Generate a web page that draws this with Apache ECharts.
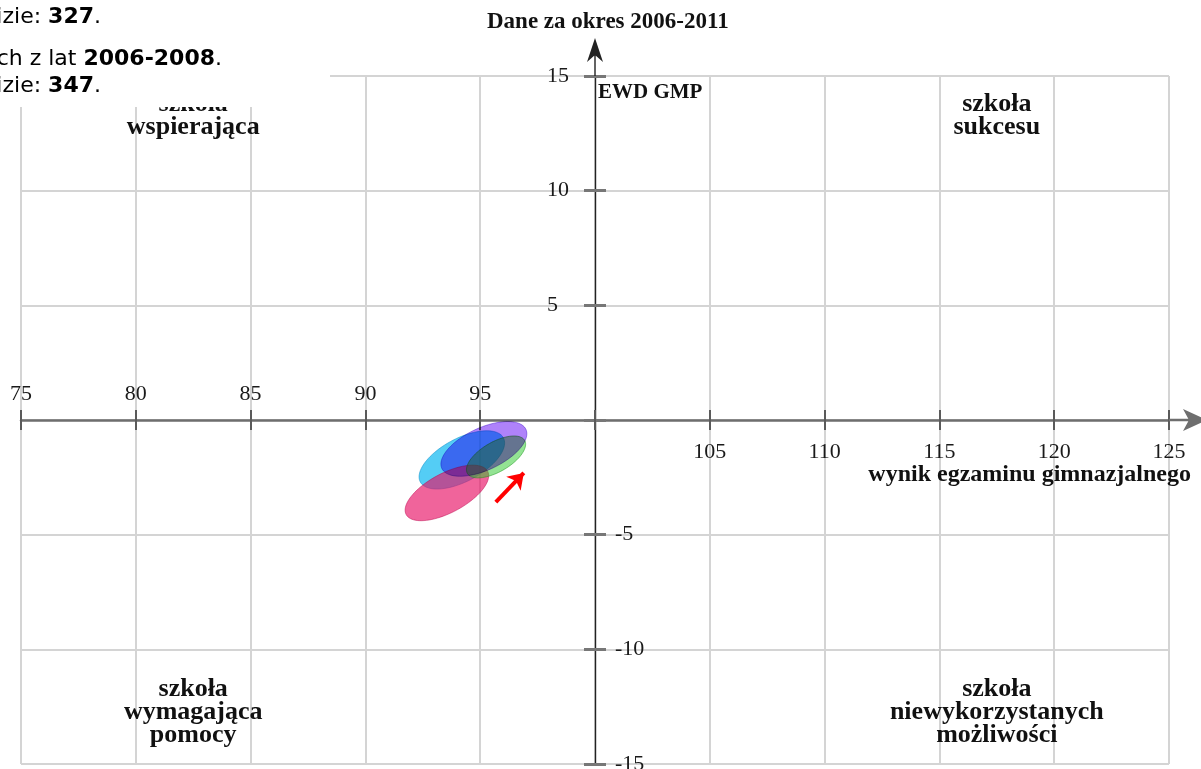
<!DOCTYPE html>
<html>
<head>
<meta charset="utf-8">
<script src="https://cdn.jsdelivr.net/npm/echarts@6/dist/echarts.min.js"></script>
<style>
html,body{margin:0;padding:0;background:#fff;}
#chart{width:1201px;height:769px;}
</style>
</head>
<body>
<div id="chart"></div>
<script>
// ---------- data ----------
const xMin = 75, xMax = 125, xStep = 5, xCross = 100;
const yMin = -15, yMax = 15, yStep = 5, yCross = 0;
const titleText = 'Dane za okres 2006-2011';
const xAxisTitle = 'wynik egzaminu gimnazjalnego';
const yAxisTitle = 'EWD GMP';

// ellipses (confidence areas), in data units — drawing order: cyan, pink, green, purple
const ellipseCenterX = [94.20, 93.55, 95.69, 95.16];
const ellipseCenterY = [-1.74, -3.18, -1.61, -1.26];
const ellipseRadiusX = [2.05, 2.01, 1.44, 2.02];
const ellipseRadiusY = [0.94, 0.86, 0.65, 0.92];
const ellipseAngle   = [28, 28, 30, 25];

// red pointer arrow (data units)
const arrowFrom = [95.68, -3.58];
const arrowTo   = [96.90, -2.31];

// quadrant captions
const quadrantLabels = ['szkoła\nwspierająca', 'szkoła\nsukcesu', 'szkoła\nwymagająca\npomocy', 'szkoła\nniewykorzystanych\nmożliwości'];
const quadrantX = [82.5, 117.5, 82.5, 117.5];
const quadrantY = [13.25, 13.25, -12.73, -12.73];

// page text fragments at top-left
const infoLines = [
  ['Liczba uczniów uwzględnionych w analizie: ', '327', '.'],
  ['Wyniki uczniów z egzaminów gimnazjalnych z lat ', '2006-2008', '.'],
  ['Liczba uczniów uwzględnionych w analizie: ', '347', '.']
];

// ---------- styles / layout ----------
const ellipseFill = ['rgba(12,184,241,0.7)', 'rgba(232,17,101,0.65)', 'rgba(40,200,40,0.5)', 'rgb(175,130,250)'];
const ellipseStroke = ['rgba(10,140,200,0.5)', 'rgba(190,10,80,0.5)', 'rgba(20,150,20,0.5)', 'rgba(120,80,220,0.6)'];
const ellipseBlend = ['source-over', 'source-over', 'source-over', 'multiply'];
const gridBox = {left: 21, top: 76, width: 1148, height: 688};
const leftOffset = -gridBox.width * (xCross - xMin) / (xMax - xMin);
const rightOffset = -gridBox.width * (xMax - xCross) / (xMax - xMin);
const bottomOffset = -gridBox.height * (yCross - yMin) / (yMax - yMin);
const topOffset = -gridBox.height * (yMax - yCross) / (yMax - yMin);
const serif = 'Liberation Serif';
const sans = 'DejaVu Sans';

const ellipseData = ellipseCenterX.map((cx, i) => [cx, ellipseCenterY[i], ellipseRadiusX[i], ellipseRadiusY[i], ellipseAngle[i]]);
const quadrantData = quadrantX.map((x, i) => [x, quadrantY[i]]);

const xArrowPath = 'path://M11,0 L22,24 L11,18 L0,24 Z M9.75,17 L12.25,17 L12.25,38 L9.75,38 Z';
const yArrowPath = 'path://M8,0 L16,24 L8,17 L0,24 Z M7.3,16 L8.7,16 L8.7,38 L7.3,38 Z';

const tickFont = {fontFamily: serif, fontSize: 22, color: '#1a1a1a'};

function infoText(line, x, y) {
  return {
    type: 'text', z: 101, silent: true,
    style: {
      text: '{a|' + line[0] + '}{b|' + line[1] + '}{a|' + line[2] + '}',
      x: x, y: y, align: 'right', verticalAlign: 'middle',
      rich: {
        a: {fontFamily: sans, fontSize: 22, color: '#5a5a5a'},
        b: {fontFamily: sans, fontSize: 22, fontWeight: 'bold', color: '#3a3a3a'}
      }
    }
  };
}

const chart = echarts.init(document.getElementById('chart'), null, {renderer: 'canvas'});
const option = {
  animation: false,
  backgroundColor: '#fff',
  grid: Object.assign({containLabel: false, outerBoundsMode: 'none'}, gridBox),
  xAxis: [{
    type: 'value', min: xMin, max: xMax, interval: xStep, position: 'bottom', offset: bottomOffset,
    axisLine: {show: true, onZero: false,
      lineStyle: {color: '#6e6e6e', width: 2.5},
      symbol: ['none', xArrowPath], symbolSize: [22, 38], symbolOffset: [0, 19]},
    axisTick: {show: true, inside: false, length: 10, lineStyle: {color: '#5a5a5a', width: 2}},
    axisLabel: Object.assign({show: true, inside: false, margin: 21, showMinLabel: true, showMaxLabel: true,
      formatter: v => (v > xCross ? String(v) : '')}, tickFont),
    splitLine: {show: true, lineStyle: {color: '#d4d4d4', width: 2}}
  }, {
    type: 'value', min: xMin, max: xMax, interval: xStep, position: 'top', offset: topOffset,
    axisLine: {show: true, onZero: false, lineStyle: {color: 'rgba(0,0,0,0)', width: 1}},
    axisTick: {show: true, inside: false, length: 10, lineStyle: {color: '#5a5a5a', width: 2}},
    axisLabel: Object.assign({show: true, inside: false, margin: 15, showMinLabel: true, showMaxLabel: true,
      formatter: v => (v < xCross ? String(v) : '')}, tickFont),
    splitLine: {show: false}
  }],
  yAxis: [{
    type: 'value', min: yMin, max: yMax, interval: yStep, position: 'left', offset: leftOffset,
    axisLine: {show: true, onZero: false, lineStyle: {color: '#222', width: 1.4},
      symbol: ['none', yArrowPath], symbolSize: [16, 38], symbolOffset: [0, 19]},
    axisTick: {show: true, inside: false, length: 11, lineStyle: {color: '#777', width: 3}},
    axisLabel: Object.assign({show: true, inside: false, margin: 48, align: 'left', showMinLabel: true, showMaxLabel: true,
      formatter: v => (v > 0 ? String(v) : '')}, tickFont),
    splitLine: {show: true, lineStyle: {color: '#d4d4d4', width: 2}}
  }, {
    type: 'value', min: yMin, max: yMax, interval: yStep, position: 'right', offset: rightOffset,
    axisLine: {show: true, onZero: false, lineStyle: {color: 'rgba(0,0,0,0)', width: 1}},
    axisTick: {show: true, inside: false, length: 11, lineStyle: {color: '#777', width: 3}},
    axisLabel: Object.assign({show: true, inside: false, margin: 20, align: 'left', showMinLabel: true, showMaxLabel: true,
      formatter: v => (v < 0 ? String(v) : '')}, tickFont),
    splitLine: {show: false}
  }],
  series: [{
    type: 'custom', name: 'elipsy', xAxisIndex: 0, yAxisIndex: 0, silent: true, z: 3,
    data: ellipseData,
    renderItem: function (params, api) {
      const cx = api.value(0), cy = api.value(1), rx = api.value(2), ry = api.value(3);
      const a = api.value(4) * Math.PI / 180;
      const pts = [];
      for (let k = 0; k < 90; k++) {
        const t = k / 90 * 2 * Math.PI;
        const dx = rx * Math.cos(t) * Math.cos(a) - ry * Math.sin(t) * Math.sin(a);
        const dy = rx * Math.cos(t) * Math.sin(a) + ry * Math.sin(t) * Math.cos(a);
        pts.push(api.coord([cx + dx, cy + dy]));
      }
      return {
        type: 'polygon', shape: {points: pts},
        style: {fill: ellipseFill[params.dataIndex], stroke: ellipseStroke[params.dataIndex], lineWidth: 1,
          blend: ellipseBlend[params.dataIndex]}
      };
    }
  }, {
    type: 'lines', coordinateSystem: 'cartesian2d', xAxisIndex: 0, yAxisIndex: 0, silent: true, z: 4,
    symbol: ['none', 'arrow'], symbolSize: 15,
    lineStyle: {color: '#ff0000', width: 4, opacity: 1},
    data: [{coords: [arrowFrom, arrowTo]}]
  }, {
    type: 'custom', name: 'podpisy', xAxisIndex: 0, yAxisIndex: 0, silent: true, z: 5,
    data: quadrantData,
    renderItem: function (params, api) {
      const p = api.coord([api.value(0), api.value(1)]);
      return {
        type: 'text', x: p[0], y: p[1],
        style: {
          text: quadrantLabels[params.dataIndex], align: 'center', verticalAlign: 'middle',
          fontFamily: serif, fontWeight: 'bold', fontSize: 26, lineHeight: 23, fill: '#111'
        }
      };
    }
  }],
  graphic: [
    {type: 'text', z: 101, silent: true,
      style: {text: titleText, x: 487, y: 22, align: 'left', verticalAlign: 'middle',
        fontFamily: serif, fontWeight: 'bold', fontSize: 23, fill: '#111'}},
    {type: 'text', z: 101, silent: true,
      style: {text: yAxisTitle, x: 598, y: 93, align: 'left', verticalAlign: 'middle',
        fontFamily: serif, fontWeight: 'bold', fontSize: 21, fill: '#111'}},
    {type: 'text', z: 101, silent: true,
      style: {text: xAxisTitle, x: 1191, y: 475, align: 'right', verticalAlign: 'middle',
        fontFamily: serif, fontWeight: 'bold', fontSize: 24, fill: '#111'}},
    {type: 'rect', z: 100, silent: true, shape: {x: 0, y: 0, width: 330, height: 107}, style: {fill: '#fff'}},
    infoText(infoLines[0], 101, 17.5),
    infoText(infoLines[1], 222, 59.5),
    infoText(infoLines[2], 101, 86.5)
  ]
};
chart.setOption(option);

// apply the blending mode to the rendered ellipse shapes
(function applyBlend() {
  const list = chart.getZr().storage.getDisplayList(true);
  list.forEach(function (el) {
    if (el.type === 'polygon' && el.style) {
      const i = ellipseFill.indexOf(el.style.fill);
      if (i >= 0) {
        el.style.blend = ellipseBlend[i];
        el.markRedraw();
      }
    }
  });
  chart.getZr().refreshImmediately();
})();
</script>
</body>
</html>
